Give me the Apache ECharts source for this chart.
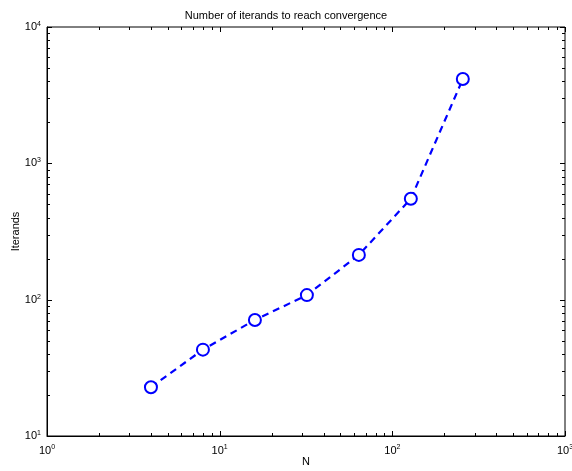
<!DOCTYPE html>
<html><head><meta charset="utf-8">
<script src="https://cdn.jsdelivr.net/npm/echarts@6/dist/echarts.min.js"></script>
<style>html,body{margin:0;padding:0;background:#fff}#c{width:572px;height:471px}</style>
</head><body><div id="c"></div>
<script>
const nValues = [4, 8, 16, 32, 64, 128, 256];
const iterands = [22.8, 43, 71, 108, 213, 550, 4150];
const xRange = [1, 1000];
const yRange = [10, 10000];
const titleText = 'Number of iterands to reach convergence';
const xName = 'N';
const yName = 'Iterands';

function minorList(lo, hi) {
  const out = [];
  for (let d = lo; d < hi; d *= 10) for (let k = 2; k <= 9; k++) out.push(d * k);
  return out;
}
function majorList(lo, hi) {
  const out = [];
  for (let d = lo; d <= hi; d *= 10) out.push(d);
  return out;
}
const xMinor = minorList(xRange[0], xRange[1]);
const yMinor = minorList(yRange[0], yRange[1]);
const xMajor = majorList(xRange[0], xRange[1]);
const yMajor = majorList(yRange[0], yRange[1]);

function powLabel(v) {
  const e = Math.round(Math.log10(v));
  return '10{s|' + e + '}';
}
const font = 'Liberation Sans, Arial, sans-serif';
const rich = { s: { fontSize: 7, fontFamily: font, color: '#000', verticalAlign: 'top', padding: [0, 0, 6, 0] } };

const chart = echarts.init(document.getElementById('c'));
chart.setOption({
  animation: false,
  backgroundColor: '#fff',
  title: { text: titleText, left: 'center', top: 5, textStyle: { fontSize: 11, fontWeight: 'normal', fontFamily: font, color: '#000' } },
  grid: { left: 47, right: 7, top: 27, bottom: 35, show: true, borderColor: '#000', borderWidth: 1, backgroundColor: '#fff', containLabel: false, outerBoundsMode: 'none' },
  xAxis: {
    type: 'log', logBase: 10, min: xRange[0], max: xRange[1],
    name: xName, nameLocation: 'middle', nameGap: 20, nameMoveOverlap: false,
    nameTextStyle: { fontSize: 11, fontFamily: font, color: '#000' },
    axisLine: { lineStyle: { color: '#000' } },
    axisTick: { show: false }, splitLine: { show: false },
    axisLabel: { formatter: powLabel, rich: rich, color: '#000', fontSize: 11, fontFamily: font, margin: 8, showMaxLabel: true, hideOverlap: false }
  },
  yAxis: {
    type: 'log', logBase: 10, min: yRange[0], max: yRange[1],
    name: yName, nameLocation: 'middle', nameGap: 26, nameMoveOverlap: false,
    nameTextStyle: { fontSize: 11, fontFamily: font, color: '#000' },
    axisLine: { lineStyle: { color: '#000' } },
    axisTick: { show: false }, splitLine: { show: false },
    axisLabel: { formatter: powLabel, rich: rich, color: '#000', fontSize: 11, fontFamily: font, margin: 6 }
  },
  series: [
    {
      type: 'custom', silent: true, clip: false, z: 1,
      data: [[xRange[0], yRange[0]]],
      renderItem: function (params, api) {
        const cs = params.coordSys;
        const x0 = cs.x, x1 = cs.x + cs.width, y0 = cs.y, y1 = cs.y + cs.height;
        const children = [];
        const st = { stroke: '#000', lineWidth: 1 };
        function addX(v, len) {
          const px = Math.round(api.coord([v, yRange[0]])[0]) + 0.5;
          children.push({ type: 'line', shape: { x1: px, y1: y1, x2: px, y2: y1 - len }, style: st });
          children.push({ type: 'line', shape: { x1: px, y1: y0, x2: px, y2: y0 + len }, style: st });
        }
        function addY(v, len) {
          const py = Math.round(api.coord([xRange[0], v])[1]) + 0.5;
          children.push({ type: 'line', shape: { x1: x0, y1: py, x2: x0 + len, y2: py }, style: st });
          children.push({ type: 'line', shape: { x1: x1, y1: py, x2: x1 - len, y2: py }, style: st });
        }
        xMinor.forEach(v => addX(v, 3));
        xMajor.forEach(v => addX(v, 5));
        yMinor.forEach(v => addY(v, 3));
        yMajor.forEach(v => addY(v, 5));
        return { type: 'group', children: children };
      }
    },
    {
      type: 'line', z: 3,
      data: nValues.map((n, i) => [n, iterands[i]]),
      symbol: 'emptyCircle', symbolSize: 12,
      lineStyle: { color: '#0000ff', width: 2.2, type: [7, 5] },
      itemStyle: { color: '#0000ff', borderColor: '#0000ff', borderWidth: 2.2 }
    }
  ]
});
</script></body></html>
